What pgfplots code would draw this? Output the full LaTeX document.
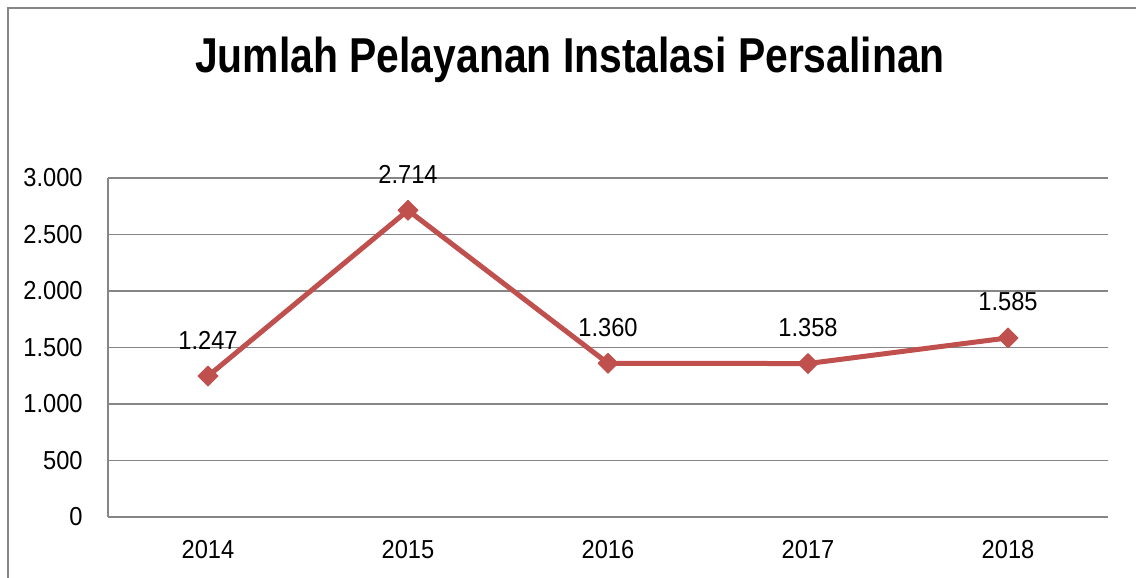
\documentclass[border=0pt]{standalone}
\usepackage{fontspec}
\setmainfont{Liberation Sans}
\newfontfamily\tickfont{Liberation Sans}[FakeStretch=0.91]
\newfontfamily\titlefont{Liberation Sans}[FakeStretch=0.834]
\usepackage{pgfplots}
\pgfplotsset{compat=1.18}
\definecolor{linered}{RGB}{192,80,77}
\definecolor{gridgray}{RGB}{134,134,134}
\begin{document}
\begin{tikzpicture}[x=1pt,y=1pt]
\useasboundingbox (0,0) rectangle (568,289);
\draw[gridgray, line width=0.6pt] (4,0) -- (4,285) -- (570,285);
\node[anchor=base, inner sep=0pt, font=\titlefont\bfseries\fontsize{24.5}{29}\selectfont] at (285,252.5) {Jumlah Pelayanan Instalasi Persalinan};
\begin{axis}[
  at={(54pt,30.5pt)}, anchor=south west,
  scale only axis, width=500pt, height=169.5pt,
  xmin=-0.5, xmax=4.5, ymin=0, ymax=3000,
  xtick={0,1,2,3,4}, xticklabels={2014,2015,2016,2017,2018},
  ytick={0,500,1000,1500,2000,2500,3000},
  axis x line=bottom, axis y line=left,
  axis line style={draw=gridgray, line width=0.75pt, -},
  major tick length=0pt,
  ymajorgrids, grid style={gridgray, line width=0.9pt},
  tick label style={font=\tickfont\fontsize{13}{15}\selectfont},
  yticklabel style={anchor=east, inner sep=0pt, xshift=-12.5pt},
  xticklabel style={anchor=north, inner sep=0pt, yshift=-11.5pt},
  nodes near coords,
  nodes near coords style={anchor=base, yshift=13.5pt, text=black, inner sep=0pt, font=\tickfont\fontsize{13}{15}\selectfont},
  clip=false,
  /pgf/number format/.cd, 1000 sep={.}, assume math mode=true,
]
\addplot[linered, line width=2.5pt, line join=round, mark=square*, mark size=3.5pt, mark options={rotate=45, solid, fill=linered, line width=0.5pt}] coordinates {(0,1247)(1,2714)(2,1360)(3,1358)(4,1585)};
\end{axis}
\end{tikzpicture}
\end{document}
